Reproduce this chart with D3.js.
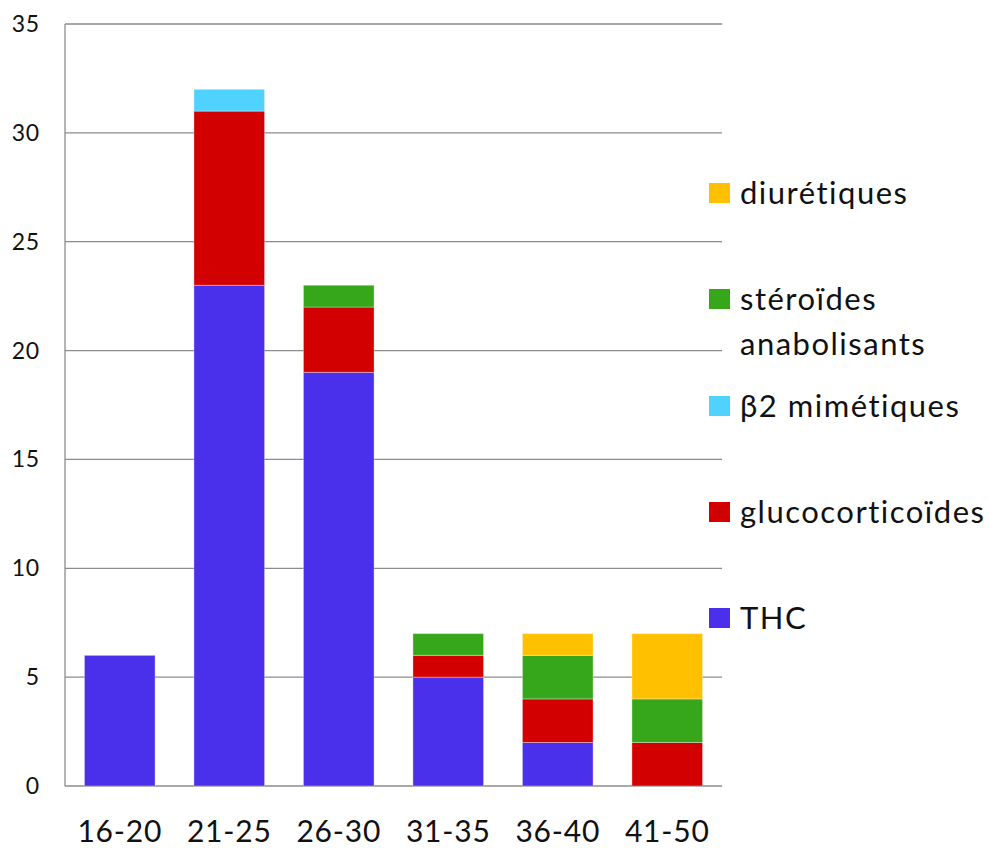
<!DOCTYPE html>
<html><head><meta charset="utf-8">
<script src="https://cdn.jsdelivr.net/npm/d3@7"></script>
<style>body{margin:0;background:#fff}</style>
</head><body>
<svg id="c" width="988" height="848"></svg>
<script>
const categories = ["16-20","21-25","26-30","31-35","36-40","41-50"];
const THC = [6,23,19,5,2,0];
const glucocorticoides = [0,8,3,1,2,2];
const beta2 = [0,1,0,0,0,0];
const steroides = [0,0,1,1,2,2];
const diuretiques = [0,0,0,0,1,3];
const yTicks = [0,5,10,15,20,25,30,35];

const seriesKeys = ["THC","gluco","beta2","steroides","diuretiques"];
const seriesColors = {THC:"#4A2FEB", gluco:"#D20000", beta2:"#50D2FF", steroides:"#36A61A", diuretiques:"#FFC000"};
const legendItems = [
  {key:"diuretiques", lines:["diurétiques"]},
  {key:"steroides", lines:["stéroïdes","anabolisants"]},
  {key:"beta2", lines:["β2 mimétiques"]},
  {key:"gluco", lines:["glucocorticoïdes"]},
  {key:"THC", lines:["THC"]}
];

const table = categories.map((c,i)=>({cat:c, THC:THC[i], gluco:glucocorticoides[i], beta2:beta2[i], steroides:steroides[i], diuretiques:diuretiques[i]}));
const stacked = d3.stack().keys(seriesKeys)(table);

const svg = d3.select("#c");
const font = "Lato, 'Open Sans', sans-serif";
const x = d3.scaleBand().domain(categories).range([65,722]).paddingInner(0.355).paddingOuter(0.1775);
const y = d3.scaleLinear().domain([0,35]).range([786,24]);

svg.append("g").selectAll("line").data(yTicks).join("line")
  .attr("x1",65).attr("x2",722).attr("y1",d=>y(d)).attr("y2",d=>y(d))
  .attr("stroke","#8c8c8c").attr("stroke-width",1.3);
svg.append("line").attr("x1",65).attr("x2",65).attr("y1",y(35)).attr("y2",y(0))
  .attr("stroke","#8c8c8c").attr("stroke-width",1.3);

svg.append("g").selectAll("g").data(stacked).join("g")
  .attr("fill",d=>seriesColors[d.key])
  .selectAll("rect").data(d=>d).join("rect")
  .attr("x",d=>x(d.data.cat)).attr("width",x.bandwidth())
  .attr("y",d=>y(d[1])).attr("height",d=>Math.max(0,y(d[0])-y(d[1])))
  .attr("stroke","rgba(255,255,255,0.35)").attr("stroke-width",1);

svg.append("g").selectAll("text").data(yTicks).join("text")
  .attr("x",40).attr("y",d=>y(d)+8).attr("text-anchor","end")
  .attr("font-family",font).attr("font-size",23).attr("letter-spacing",0.8).attr("fill","#111").text(d=>d);

svg.append("g").selectAll("text").data(categories).join("text")
  .attr("x",d=>x(d)+x.bandwidth()/2).attr("y",842).attr("text-anchor","middle")
  .attr("font-family",font).attr("font-size",30).attr("letter-spacing",0.8).attr("fill","#111").text(d=>d);

const legY = [193, 299, 406, 512, 618];
const lg = svg.append("g").selectAll("g").data(legendItems).join("g")
  .attr("transform",(d,i)=>`translate(709,${legY[i]})`);
lg.append("rect").attr("x",0).attr("y",-10).attr("width",21).attr("height",20).attr("fill",d=>seriesColors[d.key]);
lg.each(function(d){
  const t = d3.select(this).append("text").attr("font-family",font).attr("font-size",31)
    .attr("letter-spacing",1.5).attr("fill","#111");
  d.lines.forEach((l,j)=>t.append("tspan").attr("x",31).attr("y",11+j*45).text(l));
});
</script>
</body></html>
